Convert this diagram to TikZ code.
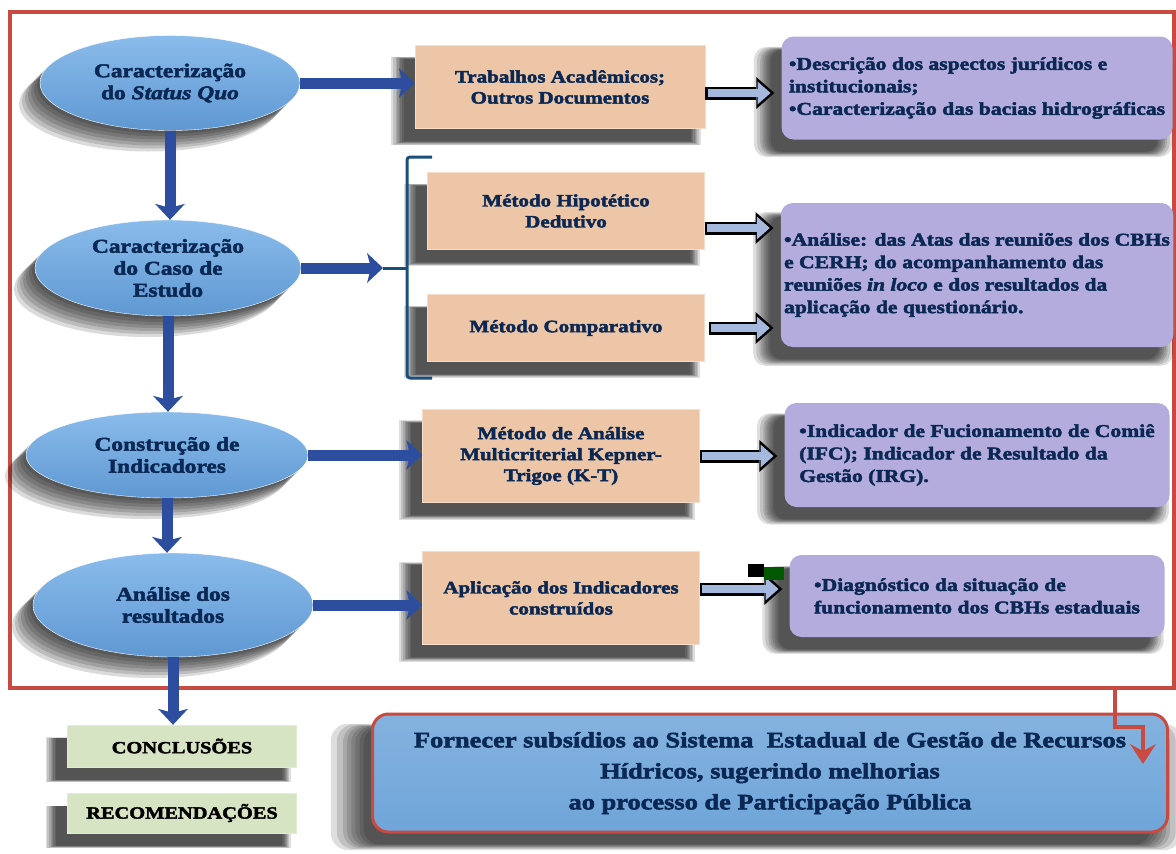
\documentclass[tikz,border=0pt]{standalone}
\usepackage{fontspec}
\setmainfont{Liberation Serif}[FakeStretch=1.2, BoldFeatures={FakeBold=2.5}, BoldItalicFeatures={FakeBold=2.5}]
\usepackage{tikz}
\usetikzlibrary{shapes.geometric,arrows.meta,shadows,calc}
\usepackage{xcolor}

\definecolor{navy}{HTML}{0A2853}
\definecolor{ellTop}{HTML}{8ABCEB}
\definecolor{ellBot}{HTML}{5F98D2}
\definecolor{peach}{HTML}{ECC6A6}
\definecolor{lilac}{HTML}{B3ACDD}
\definecolor{sage}{HTML}{D6E4C3}
\definecolor{goalBlue}{HTML}{6FA5D9}
\definecolor{frameRed}{HTML}{C94A40}
\definecolor{arrowBlue}{HTML}{2D4E9E}
\definecolor{hollowFill}{HTML}{A5B9DF}
\definecolor{braceBlue}{HTML}{1B4F7A}

\tikzset{
    shadowlayer/.style={general shadow={fill=black, opacity=.13,
        shadow xshift=-13pt, shadow yshift=-13pt, shadow scale=#1}},
    softshadow/.style={shadowlayer/.list={1.07,1.055,1.04,1.03,1.02,1.01,1.0,0.99}},
    shadowshift/.style={general shadow={fill=black, opacity=.14,
        shadow xshift=#1, shadow yshift=#1}},
    ellshadow/.style={shadowshift/.list={-3pt,-6pt,-9pt,-12pt,-15pt,-18pt,-21pt}},
    ell/.style={ellipse, draw=white, thin, top color=ellTop, bottom color=ellBot,
        text=navy, align=center, inner sep=0pt, ellshadow,
        font=\bfseries\fontsize{19.5}{22}\selectfont},
    method/.style={rectangle, draw=peach!60!white, fill=peach, text=navy, align=center,
        minimum width=277pt, minimum height=93pt, softshadow,
        font=\bfseries\fontsize{17.5}{21}\selectfont},
    result/.style={rectangle, rounded corners=12pt, fill=lilac, text=navy, align=left,
        softshadow, font=\bfseries\fontsize{18}{22.5}\selectfont},
    final/.style={rectangle, draw=sage!70!white, fill=sage, text=black, align=center,
        minimum width=229pt, softshadow, font=\bfseries\fontsize{17}{20}\selectfont},
    goal/.style={rectangle, rounded corners=16pt, draw=frameRed, line width=3pt,
        top color=goalBlue!85!white, bottom color=goalBlue, text=navy, align=center,
        minimum width=795pt, minimum height=118pt, softshadow,
        font=\bfseries\fontsize{22}{31}\selectfont},
    bluearrow/.style={draw=arrowBlue, line width=11pt,
        -{Stealth[width=30pt,length=16pt,inset=4pt,line width=0pt]}},
    hollow/.style={draw=black, line width=13pt,
        -{Triangle[width=32pt,length=18pt,line width=0pt]},
        postaction={draw=hollowFill, line width=8pt, shorten >=3.8pt, shorten <=2.5pt,
            -{Triangle[width=23pt,length=13pt,line width=0pt]}}},
    redarrow/.style={draw=frameRed, line width=4pt,
        -{Stealth[width=26pt,length=20pt,inset=7pt,line width=0pt]}},
}

\begin{document}
\begin{tikzpicture}[x=1pt,y=-1pt]
            \useasboundingbox (0,0) rectangle (1176,854);
            \draw[frameRed, line width=3.5pt] (10,12) rectangle (1174,688);

            \node[ell, minimum width=260pt, minimum height=95pt] (e1) at (170,83) {Caracterização\\do \textit{Status Quo}};
            \node[ell, minimum width=266pt, minimum height=96pt] (e2) at (168,268) {Caracterização\\do Caso de\\Estudo};
            \node[ell, minimum width=282pt, minimum height=86pt] (e3) at (167,455) {Construção de\\Indicadores};
            \node[ell, minimum width=280pt, minimum height=104pt] (e4) at (173,605) {Análise dos\\resultados};

            \node[method, minimum width=290pt, minimum height=83pt] (b1) at (560,87) {Trabalhos Acadêmicos;\\Outros Documentos};
            \node[method, minimum height=77pt] (b2) at (566,211) {Método Hipotético\\Dedutivo};
            \node[method, minimum height=67pt] (b3) at (566,328) {Método Comparativo};
            \node[method] (b4) at (561,456) {Método de Análise\\Multicriterial Kepner-\\Trigoe (K-T)};
            \node[method] (b5) at (561,598) {Aplicação dos Indicadores\\construídos};

            \node[result, minimum width=391pt, minimum height=103pt] (p1) at (977,88) {•Descrição dos aspectos jurídicos e\\institucionais;\\•Caracterização das bacias hidrográficas};
            \node[result, minimum width=391pt, minimum height=144pt] (p2) at (977,275) {•Análise: das Atas das reuniões dos CBHs\\e CERH; do acompanhamento das\\reuniões \textit{in loco} e dos resultados da\\aplicação de questionário.};
            \node[result, minimum width=385pt, minimum height=104pt] (p3) at (977,455) {•Indicador de Fucionamento de Comiê\\(IFC); Indicador de Resultado da\\Gestão (IRG).};
            \node[result, minimum width=375pt, minimum height=82pt] (p4) at (977,596) {•Diagnóstico da situação de\\funcionamento dos CBHs estaduais};

            \node[final, minimum height=42pt] (c1) at (182,746) {CONCLUSÕES};
            \node[final, minimum height=40pt] (c2) at (182,813) {RECOMENDAÇÕES};
            \node[goal] (g) at (770,773) {Fornecer subsídios ao Sistema \ Estadual de Gestão de Recursos\\Hídricos, sugerindo melhorias\\ao processo de Participação Pública};

            \coordinate (brm) at (383,268);
            \draw[braceBlue, line width=3pt, rounded corners=3pt] (432,157) -- (407,157) -- (407,378) -- (432,378);
            \draw[braceBlue, line width=3pt] (407,268) -- (brm);

            \draw[bluearrow] (e1.south) -- (e1.south |- e2.north);
            \draw[bluearrow] (e2.south) -- (e2.south |- e3.north);
            \draw[bluearrow] (e3.south) -- (e3.south |- e4.north);
            \draw[bluearrow] (e4.south) -- (e4.south |- c1.north);
            \draw[bluearrow] (e1.east) -- (e1.east -| b1.west);
            \draw[bluearrow] (e2.east) -- (brm);
            \draw[bluearrow] (e3.east) -- (e3.east -| b4.west);
            \draw[bluearrow] (e4.east) -- (e4.east -| b5.west);

            \draw[hollow] ([yshift=-6pt]b1.east) -- ([yshift=-6pt,xshift=-7pt]b1.east -| p1.west);
            \draw[hollow] ([yshift=-17pt]b2.east) -- ([yshift=-17pt,xshift=-7pt]b2.east -| p2.west);
            \draw[hollow] ([xshift=4pt]b3.east) -- ([xshift=-7pt]b3.east -| p2.west);
            \draw[hollow] (b4.east) -- ([xshift=-7pt]b4.east -| p3.west);
            \draw[hollow] ([yshift=9pt]b5.east) -- ([yshift=9pt,xshift=-7pt]b5.east -| p4.west);
            \fill[black] (748,564) rectangle (764,577);
            \fill[green!35!black] (764,567) rectangle (784,580);

            \coordinate (rs) at (1115,688);
            \coordinate (rt) at (1143,764);
            \draw[redarrow] (rs) -- ++(0,39) -| (rt);
\end{tikzpicture}
\end{document}
